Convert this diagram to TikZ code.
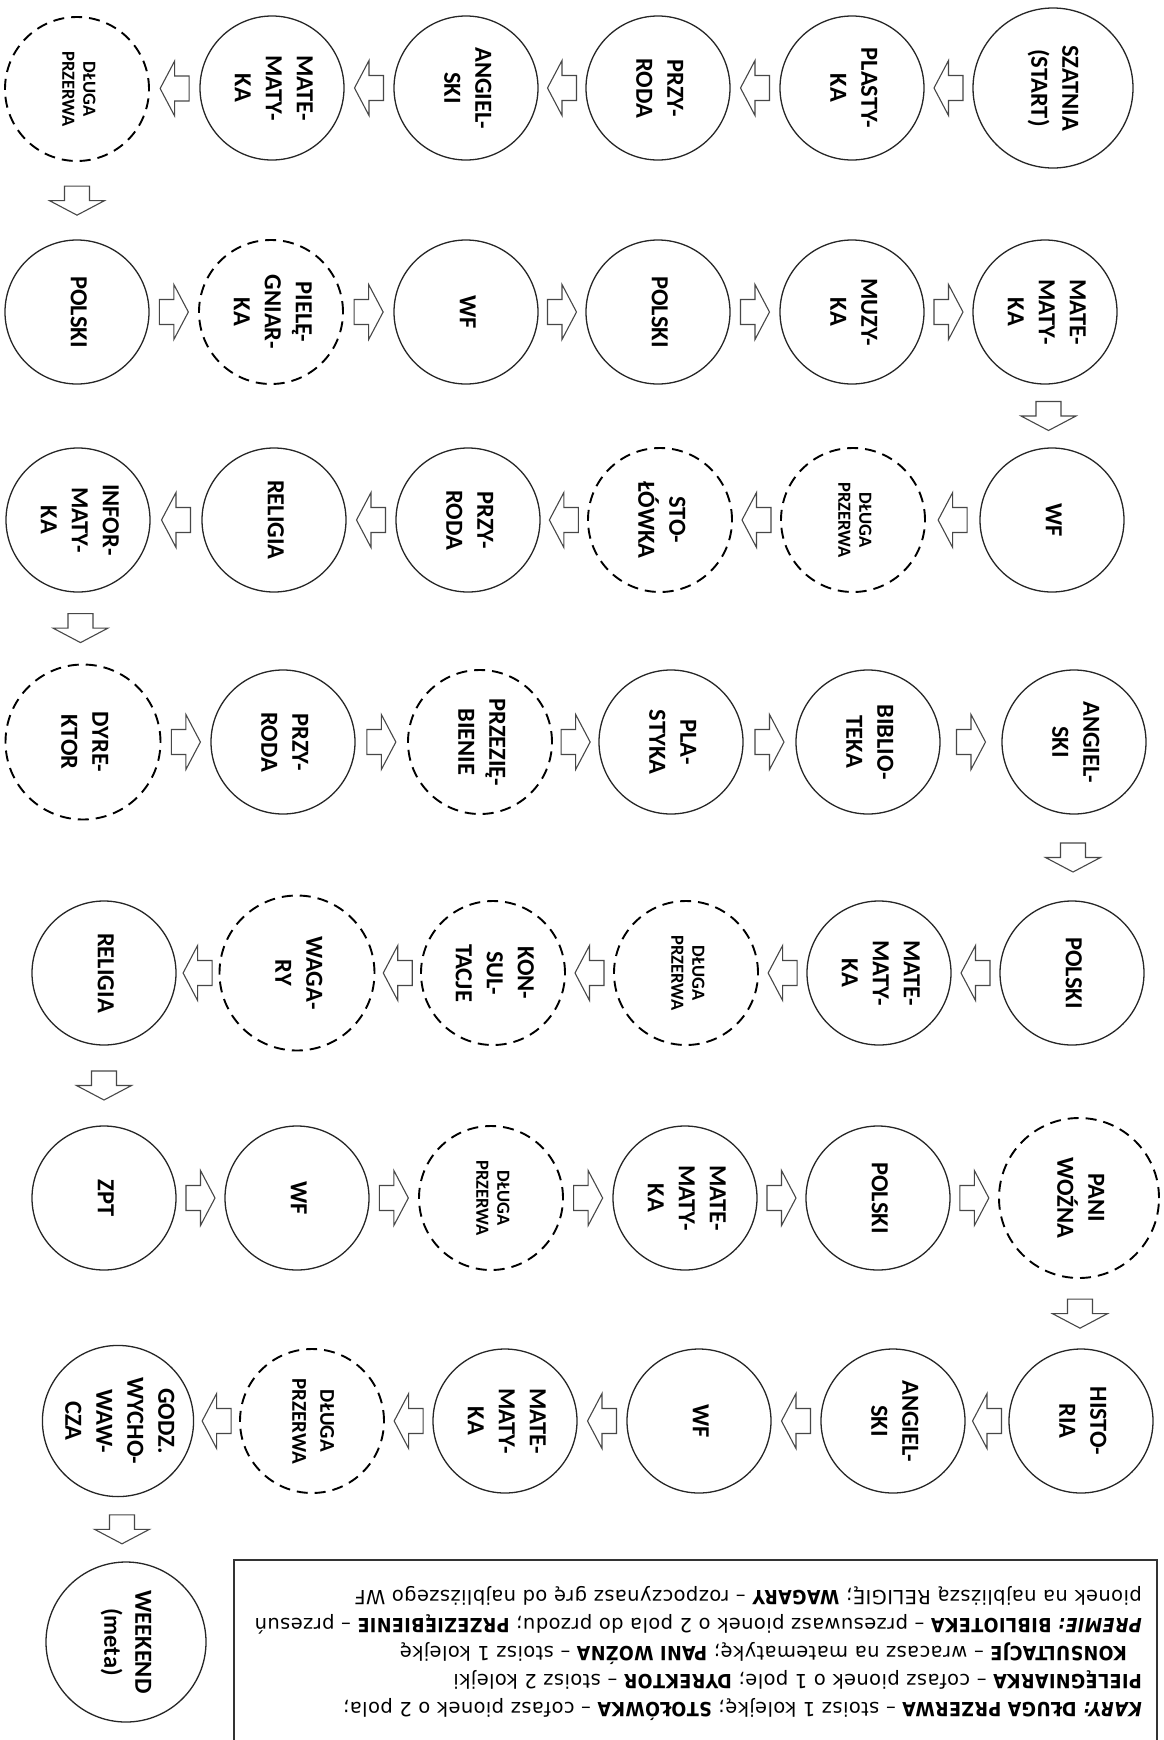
\documentclass[tikz,border=0pt]{standalone}
\usepackage{fontspec}
\usepackage{graphicx}
\usetikzlibrary{calc}
\newfontfamily\nodefam{Carlito}
\newfontfamily\legfam{DejaVu Sans}[LetterSpace=2]
\newfontfamily\legcond{DejaVu Sans Condensed}[LetterSpace=2]
\newcommand{\nodefont}{\nodefam\bfseries\fontsize{24.5}{31}\selectfont}
\newcommand{\smallnodefont}{\nodefam\bfseries\fontsize{18.5}{21}\selectfont}
\newcommand{\midnodefont}{\nodefam\bfseries\fontsize{21}{28}\selectfont}
\newcommand{\legfont}{\legfam\fontsize{19.5}{28}\selectfont}
\newcommand{\lb}[1]{{\legcond\bfseries #1}}
\newcommand{\lbi}[1]{{\legcond\bfseries\itshape #1}}
\newcommand{\rt}[1]{\rotatebox{-90}{\begin{tabular}{@{}c@{}}#1\end{tabular}}}
\newcommand{\arrL}[2]{\pic[rotate=180] at ($(#1.west)!0.5!(#2.east)$) {barrow};}
\newcommand{\arrR}[2]{\pic at ($(#1.east)!0.5!(#2.west)$) {barrow};}
\newcommand{\arrD}[2]{\pic[rotate=-90] at ($(#1.south)!0.5!(#2.north)$) {barrow};}
\begin{document}
\begin{tikzpicture}[x=1pt,y=-1pt,
  field/.style={circle, draw=black!85, line width=1.3pt, minimum size=144pt, inner sep=0pt, font=\nodefont},
  spec/.style={field, draw=black, dash pattern=on 11pt off 7pt, line width=1.9pt},
  bigc/.style={minimum size=160pt},
  medc/.style={minimum size=155pt},
  smallt/.style={font=\smallnodefont},
  midt/.style={font=\midnodefont},
  arrowline/.style={draw=black!72, line width=1.1pt, fill=white, line join=miter},
  pics/barrow/.style={code={\draw[arrowline] (-14.5pt,-12.5pt) -- (0pt,-12.5pt) -- (0pt,-27.5pt) -- (14.5pt,0pt) -- (0pt,27.5pt) -- (0pt,12.5pt) -- (-14.5pt,12.5pt) -- cycle;}}
]
\useasboundingbox[fill=white] (0,0) rectangle (1163,1740);
% row 1
\node[field, bigc] (n1) at (1053,88) {\rt{SZATNIA\\(START)}};
\node[field] (n2) at (852,88) {\rt{PLASTY-\\KA}};
\node[field] (n3) at (658,88) {\rt{PRZY-\\RODA}};
\node[field] (n4) at (466,88) {\rt{ANGIEL-\\SKI}};
\node[field] (n5) at (272,88) {\rt{MATE-\\MATY-\\KA}};
\node[spec, smallt] (n6) at (77,89) {\rt{DŁUGA\\PRZERWA}};
% row 2
\node[field] (n7) at (77,312) {\rt{POLSKI}};
\node[spec] (n8) at (271,312) {\rt{PIELĘ-\\GNIAR-\\KA}};
\node[field] (n9) at (466,312) {\rt{WF}};
\node[field] (n10) at (658,312) {\rt{POLSKI}};
\node[field] (n11) at (852,312) {\rt{MUZY-\\KA}};
\node[field] (n12) at (1045,312) {\rt{MATE-\\MATY-\\KA}};
% row 3
\node[field] (n13) at (1052,520) {\rt{WF}};
\node[spec, smallt] (n14) at (853,520) {\rt{DŁUGA\\PRZERWA}};
\node[spec] (n15) at (660,520) {\rt{STO-\\ŁÓWKA}};
\node[field] (n16) at (468,520) {\rt{PRZY-\\RODA}};
\node[field] (n17) at (274,520) {\rt{RELIGIA}};
\node[field] (n18) at (78,520) {\rt{INFOR-\\MATY-\\KA}};
% row 4
\node[spec, medc] (n19) at (83,742) {\rt{DYRE-\\KTOR}};
\node[field] (n20) at (283,742) {\rt{PRZY-\\RODA}};
\node[spec] (n21) at (480,742) {\rt{PRZEZIĘ-\\BIENIE}};
\node[field] (n22) at (671,742) {\rt{PLA-\\STYKA}};
\node[field] (n23) at (868,742) {\rt{BIBLIO-\\TEKA}};
\node[field] (n24) at (1074,742) {\rt{ANGIEL-\\SKI}};
% row 5
\node[field] (n25) at (1072,973) {\rt{POLSKI}};
\node[field] (n26) at (879,973) {\rt{MATE-\\MATY-\\KA}};
\node[spec, smallt] (n27) at (686,973) {\rt{DŁUGA\\PRZERWA}};
\node[spec] (n28) at (493,973) {\rt{KON-\\SUL-\\TACJE}};
\node[spec, medc] (n29) at (297,973) {\rt{WAGA-\\RY}};
\node[field] (n30) at (104,973) {\rt{RELIGIA}};
% row 6
\node[field] (n31) at (104,1198) {\rt{ZPT}};
\node[field] (n32) at (297,1198) {\rt{WF}};
\node[spec, smallt] (n33) at (491,1198) {\rt{DŁUGA\\PRZERWA}};
\node[field] (n34) at (685,1198) {\rt{MATE-\\MATY-\\KA}};
\node[field] (n35) at (878,1198) {\rt{POLSKI}};
\node[spec, bigc] (n36) at (1079,1198) {\rt{PANI\\WOŹNA}};
% row 7
\node[field] (n37) at (1081,1421) {\rt{HISTO-\\RIA}};
\node[field] (n38) at (893,1421) {\rt{ANGIEL-\\SKI}};
\node[field] (n39) at (699,1421) {\rt{WF}};
\node[field] (n40) at (505,1421) {\rt{MATE-\\MATY-\\KA}};
\node[spec, midt] (n41) at (312,1421) {\rt{DŁUGA\\PRZERWA}};
\node[field] (n42) at (118,1421) {\rt{GODZ.\\WYCHO-\\WAW-\\CZA}};
% finish
\node[field, bigc] (n43) at (126,1642) {\rt{WEEKEND\\(meta)}};
% arrows
\arrL{n1}{n2} \arrL{n2}{n3} \arrL{n3}{n4} \arrL{n4}{n5} \arrL{n5}{n6}
\arrD{n6}{n7}
\arrR{n7}{n8} \arrR{n8}{n9} \arrR{n9}{n10} \arrR{n10}{n11} \arrR{n11}{n12}
\arrD{n12}{n13}
\arrL{n13}{n14} \arrL{n14}{n15} \arrL{n15}{n16} \arrL{n16}{n17} \arrL{n17}{n18}
\arrD{n18}{n19}
\arrR{n19}{n20} \arrR{n20}{n21} \arrR{n21}{n22} \arrR{n22}{n23} \arrR{n23}{n24}
\arrD{n24}{n25}
\arrL{n25}{n26} \arrL{n26}{n27} \arrL{n27}{n28} \arrL{n28}{n29} \arrL{n29}{n30}
\arrD{n30}{n31}
\arrR{n31}{n32} \arrR{n32}{n33} \arrR{n33}{n34} \arrR{n34}{n35} \arrR{n35}{n36}
\arrD{n36}{n37}
\arrL{n37}{n38} \arrL{n38}{n39} \arrL{n39}{n40} \arrL{n40}{n41} \arrL{n41}{n42}
\arrD{n42}{n43}
% legend
\draw[line width=1.6pt, draw=black!80] (234,1560) rectangle (1157,1745);
\node[rotate=180, anchor=north west, inner sep=0pt, align=left, font=\legfont] (legend) at (1142,1721) {%
\lbi{KARY:} \lb{DŁUGA PRZERWA} – stoisz 1 kolejkę; \lb{STOŁÓWKA} – cofasz pionek o 2 pola;\\
\lb{PIELĘGNIARKA} – cofasz pionek o 1 pole; \lb{DYREKTOR} – stoisz 2 kolejki\\
\hspace*{15pt}\lb{KONSULTACJE} – wracasz na matematykę; \lb{PANI WOŹNA} – stoisz 1 kolejkę\\
\lbi{PREMIE:} \lb{BIBLIOTEKA} – przesuwasz pionek o 2 pola do przodu; \lb{PRZEZIĘBIENIE} – przesuń\\
pionek na najbliższą RELIGIĘ; \lb{WAGARY} – rozpoczynasz grę od najbliższego WF};
\end{tikzpicture}
\end{document}
